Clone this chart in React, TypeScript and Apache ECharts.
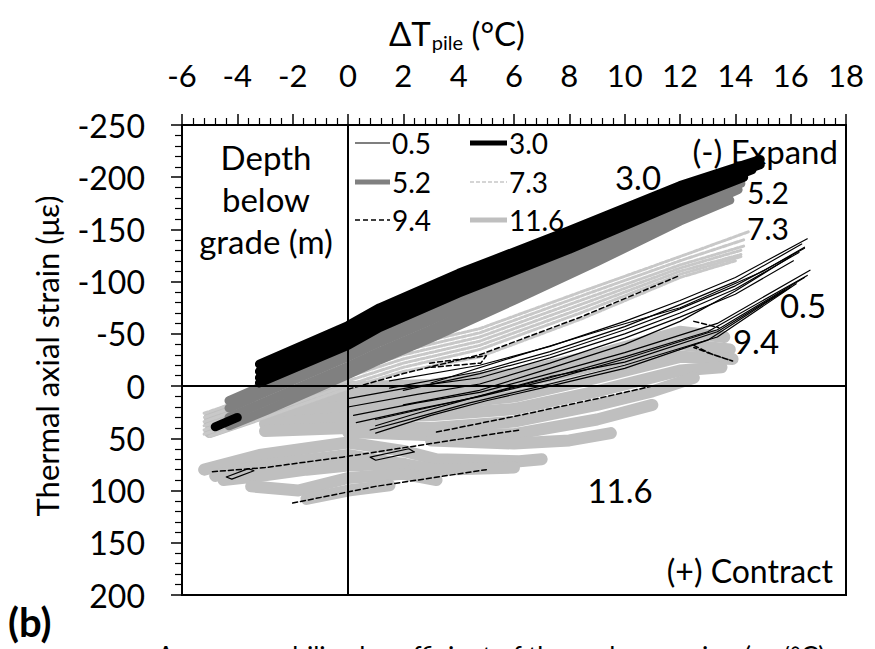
import React, { useEffect, useRef } from 'react';
import * as echarts from 'echarts';

const FONT = 'Lato, "Open Sans", sans-serif';

// Axis ranges (ΔT_pile in °C on top axis, thermal axial strain in με on inverted left axis)
const X_MIN = -6;
const X_MAX = 18;
const X_STEP = 2;
const Y_MIN = -250;
const Y_MAX = 200;
const Y_STEP = 50;

// Depth below grade (m) – legend entries, two columns
const legendLeftColumn = ['0.5', '5.2', '9.4'];
const legendRightColumn = ['3.0', '7.3', '11.6'];

type Pt = [number, number];

// Hysteresis passes: [ΔT (°C), strain (με)]
const strain_0_5: Pt[][] = [
  [[1.5, -5], [4.76, -20], [7.3, -38], [10, -62], [12, -82], [14, -104], [16.6, -141]],
  [[16.4, -136], [14, -100], [12, -78], [10, -57], [7.3, -33], [4.76, -14], [1.5, 2]],
  [[2, 4], [4.76, -12], [7.3, -30], [10, -54], [12, -74], [14, -96], [16.5, -132]],
  [[0, 12], [2.5, 0], [4.76, -8], [7.3, -27], [10, -50], [12, -70], [14, -93], [16.3, -128]],
  [[16.1, -120], [14, -88], [12, -66], [10, -46], [7.3, -22], [4.76, -2], [2.5, 8], [0, 20]],
  [[16, -124], [14, -91], [12, -62], [10, -40], [7.3, -17], [4.76, 4], [2, 18]],
  [[0.2, 28], [2.5, 16], [4.76, 6], [7.3, -12], [10, -32], [13.35, -60], [16.7, -111]],
  [[16.5, -104], [13.35, -54], [10, -26], [7.3, -6], [4.76, 10], [2.5, 22], [0.3, 35]],
  [[1, 32], [3, 20], [5, 8], [7.3, -8], [10, -28], [13, -52], [16.6, -106]],
  [[0.8, 42], [2.5, 30], [4.4, 16], [7.3, -2], [10, -20], [13.35, -47], [16.2, -98]],
  [[15.8, -92], [13.35, -52], [10, -23], [7.3, -9], [4.4, 12], [2.5, 26], [1, 38]],
  [[16, -95], [13, -44], [10, -17], [7.3, 0], [5, 14], [3, 28], [1, 45]],
  [[3, -3], [6, -28], [9, -52], [12, -75], [15, -110], [16.5, -133]],
  [[-4.4, 87], [-3.6, 79], [-3.4, 81], [-4.2, 89], [-4.4, 87]],
  [[0.8, 68], [2.2, 60], [2.4, 63], [1, 71], [0.8, 68]],
];

const strain_3_0: Pt[][] = [
  [[-3.2, -21], [0, -58], [1.14, -75], [4, -108], [8, -149], [12, -192], [14.9, -217]],
  [[14.9, -212], [12, -186], [8, -142], [4, -101], [1.14, -68], [0, -51], [-3.2, -14]],
  [[-3.2, -8], [0, -44], [1.14, -61], [4, -94], [8, -136], [12, -180], [14.6, -207]],
  [[14.3, -200], [12, -176], [8, -131], [4, -89], [1.14, -56], [0, -39], [-3.2, -3]],
  [[-4.8, 39], [-4.0, 30]],
];

const strain_5_2: Pt[][] = [
  [[-4.3, 14], [-3, -1], [0, -34], [1.14, -49], [3, -70], [6, -105], [9, -140], [12, -174], [14.3, -200]],
  [[14.2, -194], [12, -169], [9, -133], [6, -98], [3, -63], [1.14, -42], [0, -28], [-3, 6], [-4.3, 21]],
  [[-4.3, 30], [-3, 15], [0, -19], [1.14, -33], [3, -54], [6, -90], [9, -125], [12, -163], [14.1, -188]],
  [[13.8, -178], [12, -158], [9, -119], [6, -82], [3, -46], [1.14, -25], [0, -11], [-3, 24], [-4.3, 38]],
];

const strain_7_3: Pt[][] = [
  [[-5.2, 26], [-3, 6], [0, -21], [2, -38], [4.76, -55], [8.4, -90], [12, -124], [14.5, -148]],
  [[14.3, -140], [12, -120], [8.4, -86], [4.76, -51], [2, -34], [0, -17], [-3, 10], [-5.2, 30]],
  [[-5.2, 34], [-3, 14], [0, -13], [2, -30], [4.76, -47], [8.4, -82], [12, -116], [14.3, -134]],
  [[14.2, -130], [12, -113], [8.4, -78], [4.76, -43], [2, -26], [0, -9], [-3, 18], [-5.2, 38]],
  [[-5.2, 42], [-3, 22], [0, -5], [2, -22], [4.76, -39], [8.4, -74], [12, -110], [14.2, -126]],
  [[14.2, -124], [12, -107], [8.4, -70], [4.76, -35], [2, -18], [0, -1], [-3, 26], [-5.2, 46]],
  [[-5, 48], [-3, 30], [0, 2], [2, -14], [4.76, -28], [8.4, -64], [12, -104], [14, -120]],
];

const strain_9_4: Pt[][] = [
  [[0, 3], [2, -12], [4.76, -30], [8.4, -66], [12, -106]],
  [[-4.9, 82], [-3, 78], [-0.2, 68], [3, 55], [6.2, 42]],
  [[3.2, 44], [6.2, 28], [9, 12], [11, 0]],
  [[-2, 112], [-0.5, 104], [1, 96], [3, 88], [5, 80]],
  [[12.5, -39], [13.2, -30], [13.9, -24], [13, -32], [12.5, -37]],
  [[12.5, -62], [13.4, -56]],
  [[2.95, -22], [5, -29], [4.8, -22], [3, -18]],
];

const strain_11_6: Pt[][] = [
  [[-5, 30], [-3, 8], [0, 1], [3, -1], [6, -12], [9, -30], [12, -52], [13.6, -47]],
  [[13.8, -35], [12, -40], [9, -20], [6, -2], [3, 8], [0, 10], [-3, 16], [-5, 36]],
  [[-5, 44], [-3, 26], [0, 20], [3, 18], [6, 10], [9, -8], [12, -28], [13.9, -26]],
  [[13.5, -18], [12, -15], [9, 5], [6, 22], [3, 28], [0, 30], [-3, 36]],
  [[-3, 43], [0, 40], [3, 40], [6, 34], [9, 18], [11, 5], [12.5, -8]],
  [[11, 18], [9, 32], [6, 46], [3, 47], [0, 44]],
  [[3, 52], [6, 55], [8, 52], [9.5, 45]],
  [[-5.2, 80], [-3.2, 66], [0, 54], [2, 62], [3.2, 70], [6.2, 72], [7, 70]],
  [[6, 78], [3.2, 80], [0, 66], [-3.2, 76], [-4.8, 86]],
  [[-4.5, 90], [-3.2, 86], [-1.5, 80], [0, 76], [2, 74]],
  [[-3.5, 96], [-1.8, 100], [0, 88], [2, 84], [3.2, 90]],
  [[-1.5, 108], [0, 100], [1.5, 95]],
];

const seriesStyles: Record<string, { color: string; width: number; dash: number[] | null; legendWidth: number }> = {
  '0.5': { color: '#000000', width: 1.2, dash: null, legendWidth: 1.2 },
  '3.0': { color: '#000000', width: 9, dash: null, legendWidth: 5 },
  '5.2': { color: '#808080', width: 9, dash: null, legendWidth: 5 },
  '7.3': { color: '#c8c8c8', width: 3, dash: [4, 2], legendWidth: 1.3 },
  '9.4': { color: '#000000', width: 1.5, dash: [5, 3], legendWidth: 1.3 },
  '11.6': { color: '#bfbfbf', width: 12, dash: null, legendWidth: 5 },
};

const drawOrder: [string, Pt[][]][] = [
  ['11.6', strain_11_6],
  ['7.3', strain_7_3],
  ['5.2', strain_5_2],
  ['3.0', strain_3_0],
  ['0.5', strain_0_5],
  ['9.4', strain_9_4],
];

function buildSeries() {
  const out: any[] = [];
  drawOrder.forEach(([name, passes]) => {
    const st = seriesStyles[name];
    passes.forEach((pass) => {
      out.push({
        type: 'line',
        name,
        data: pass,
        symbol: 'none',
        showSymbol: false,
        silent: true,
        itemStyle: { color: st.color },
        lineStyle: { color: st.color, width: st.width, type: st.dash || 'solid', cap: 'round', join: 'round' },
      });
    });
  });
  out.push({
    type: 'line',
    name: 'zero-lines',
    data: [],
    symbol: 'none',
    silent: true,
    markLine: {
      silent: true,
      symbol: ['none', 'none'],
      label: { show: false },
      lineStyle: { color: '#000', width: 2, type: 'solid' },
      data: [{ xAxis: 0 }, { yAxis: 0 }],
    },
  });
  return out;
}

const txt = (text: string, x: number, y: number, align: string, size = 32, extra: any = {}) => ({
  type: 'text',
  x,
  y,
  silent: true,
  style: { text, fill: '#000', fontSize: size, fontFamily: FONT, align, verticalAlign: 'middle', ...extra },
});

function legendGraphics() {
  const items: any[] = [];
  const rowsY = [143, 182, 220];
  const cols: [string[], number, number][] = [
    [legendLeftColumn, 355, 390],
    [legendRightColumn, 470, 507],
  ];
  cols.forEach(([names, x1, x2]) => {
    names.forEach((n, i) => {
      const st = seriesStyles[n];
      items.push({
        type: 'line',
        silent: true,
        shape: { x1, y1: rowsY[i], x2, y2: rowsY[i] },
        style: { stroke: st.color, lineWidth: st.legendWidth, lineDash: st.dash || null },
      });
      items.push(txt(n, x2 + 2, rowsY[i], 'left', 28));
    });
  });
  return items;
}

export default function App() {
  const ref = useRef<HTMLDivElement>(null);
  useEffect(() => {
    if (!ref.current) return;
    const chart = echarts.init(ref.current, undefined, { renderer: 'svg' });
    chart.setOption({
      animation: false,
      backgroundColor: '#fff',
      grid: {
        left: 182,
        right: 29,
        top: 125,
        bottom: 54,
        show: true,
        borderColor: '#000',
        borderWidth: 2,
        backgroundColor: 'transparent',
      },
      xAxis: {
        type: 'value',
        position: 'top',
        min: X_MIN,
        max: X_MAX,
        interval: X_STEP,
        axisLine: { show: true, onZero: false, lineStyle: { color: '#000', width: 2 } },
        axisTick: { show: true, length: 11, lineStyle: { color: '#000', width: 1.5 } },
        minorTick: { show: true, splitNumber: 5, length: 7, lineStyle: { color: '#000', width: 1.2 } },
        axisLabel: { fontSize: 31, fontFamily: FONT, color: '#000', margin: 35 },
        splitLine: { show: false },
        minorSplitLine: { show: false },
      },
      yAxis: {
        type: 'value',
        inverse: true,
        min: Y_MIN,
        max: Y_MAX,
        interval: Y_STEP,
        axisLine: { show: true, onZero: false, lineStyle: { color: '#000', width: 2 } },
        axisTick: { show: true, length: 11, lineStyle: { color: '#000', width: 1.5 } },
        minorTick: { show: true, splitNumber: 5, length: 7, lineStyle: { color: '#000', width: 1.2 } },
        axisLabel: { fontSize: 32, fontFamily: FONT, color: '#000', margin: 37 },
        splitLine: { show: false },
        minorSplitLine: { show: false },
      },
      graphic: [
        {
          type: 'text',
          x: 389,
          y: 33,
          silent: true,
          style: {
            text: '{a|ΔT}{b|pile}{a| (°C)}',
            fill: '#000',
            verticalAlign: 'middle',
            rich: {
              a: { fontSize: 33, fontFamily: FONT, fill: '#000' },
              b: { fontSize: 20, fontFamily: FONT, fill: '#000', padding: [17, 0, 0, 1] },
            },
          },
        },
        {
          type: 'text',
          x: 47,
          y: 356,
          rotation: Math.PI / 2,
          silent: true,
          style: { text: 'Thermal axial strain (με)', fill: '#000', fontSize: 31, fontFamily: FONT, align: 'center', verticalAlign: 'middle' },
        },
        ...legendGraphics(),
        txt('Depth\nbelow\ngrade (m)', 266, 199, 'center', 33, { lineHeight: 42 }),
        txt('(-) Expand', 838, 151, 'right', 33),
        txt('(+) Contract', 833, 570, 'right', 32),
        txt('3.0', 638, 177, 'center', 33),
        txt('5.2', 768, 192, 'center', 30),
        txt('7.3', 768, 228, 'center', 30),
        txt('0.5', 803, 305, 'center', 33),
        txt('9.4', 756, 341, 'center', 33),
        txt('11.6', 620, 490, 'center', 33),
        txt('(b)', 8, 622, 'left', 40, { fontWeight: 'bold' }),
        {
          type: 'text',
          x: 157,
          y: 643,
          silent: true,
          style: { text: 'Average mobilized coefficient of thermal expansion (με/°C)', fill: '#000', fontSize: 26, fontFamily: FONT, align: 'left', verticalAlign: 'top' },
        },
      ],
      series: buildSeries(),
    });
    return () => chart.dispose();
  }, []);
  return (
    <div
      ref={ref}
      style={{ position: 'fixed', left: 0, top: 0, width: 875, height: 649, background: '#fff' }}
    />
  );
}
